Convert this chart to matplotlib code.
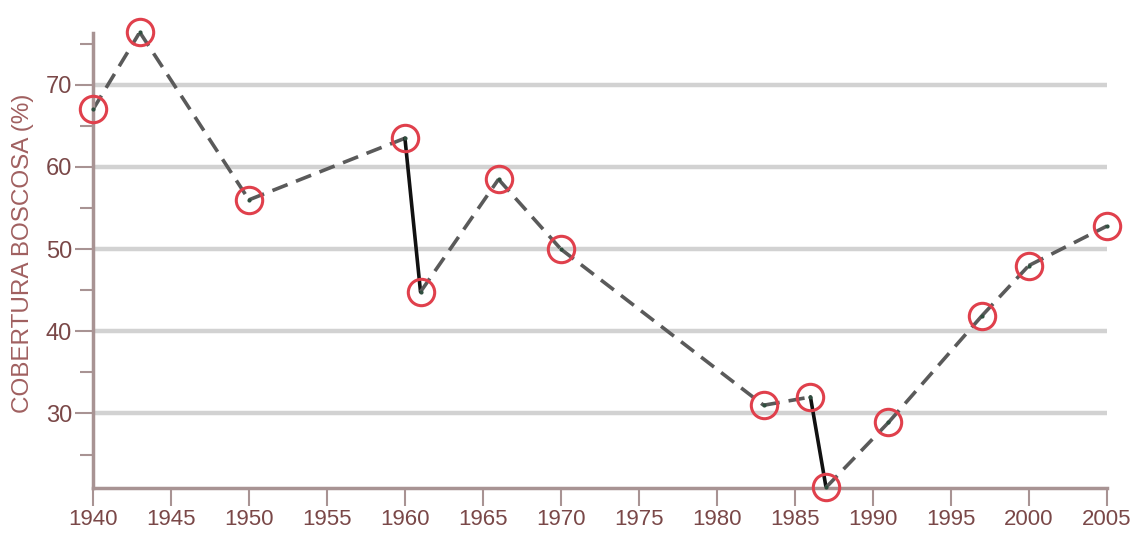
import numpy as np
import matplotlib.pyplot as plt
from matplotlib.ticker import MultipleLocator

years = [1940, 1943, 1950, 1960, 1961, 1966, 1970, 1983, 1986, 1987, 1991, 1997, 2000, 2005]
cover = [67.0, 76.4, 56.0, 63.5, 44.8, 58.5, 50.0, 31.0, 32.0, 21.0, 28.9, 41.9, 48.0, 52.8]
# segments (start index) drawn as solid black drops
solid_from = [3, 8]

plt.rcParams['font.family'] = ['Liberation Sans', 'DejaVu Sans']

fig = plt.figure(figsize=(11.34, 5.33), dpi=100)
ax = fig.add_axes([0.082, 0.084, 0.894, 0.854])

spine_col = '#a89393'
text_col = '#7a4848'

for y in [30, 40, 50, 60, 70]:
	ax.axhline(y, color='#d2d2d2', lw=3.2, zorder=0)

for i in range(len(years) - 1):
	xs = years[i:i + 2]
	ys = cover[i:i + 2]
	if i in solid_from:
		ax.plot(xs, ys, color='#111111', lw=2.6, solid_capstyle='round', zorder=2)
	else:
		ax.plot(xs, ys, color='#5a5a5a', lw=2.6, linestyle=(0, (4.5, 2.5)), zorder=2)

ax.plot(years, cover, 'o', ms=19, mfc='none', mec='#e0404c', mew=2.2, clip_on=False, zorder=3)
ax.plot(years, cover, '.', ms=4, color='#2f4f3f', clip_on=False, zorder=4)

ax.set_xlim(1940, 2005)
ax.set_ylim(20.9, 76.3)
ax.set_xticks(np.arange(1940, 2006, 5))
ax.set_yticks([30, 40, 50, 60, 70])
ax.yaxis.set_minor_locator(MultipleLocator(5))

for s in ['top', 'right']:
	ax.spines[s].set_visible(False)
for s in ['left', 'bottom']:
	ax.spines[s].set_color(spine_col)
	ax.spines[s].set_linewidth(2.5)

ax.tick_params(axis='both', which='major', length=13, width=1.5, color=spine_col,
	labelsize=17, labelcolor=text_col, pad=2)
ax.tick_params(axis='x', which='major', labelsize=16)
ax.tick_params(axis='y', which='minor', length=9.5, width=1.5, color=spine_col)

ax.set_ylabel('COBERTURA BOSCOSA (%)', fontsize=17.5, color='#a06060')
ax.yaxis.set_label_coords(-0.058, 0.516)

fig.savefig('out.png', dpi=100, facecolor='white')
